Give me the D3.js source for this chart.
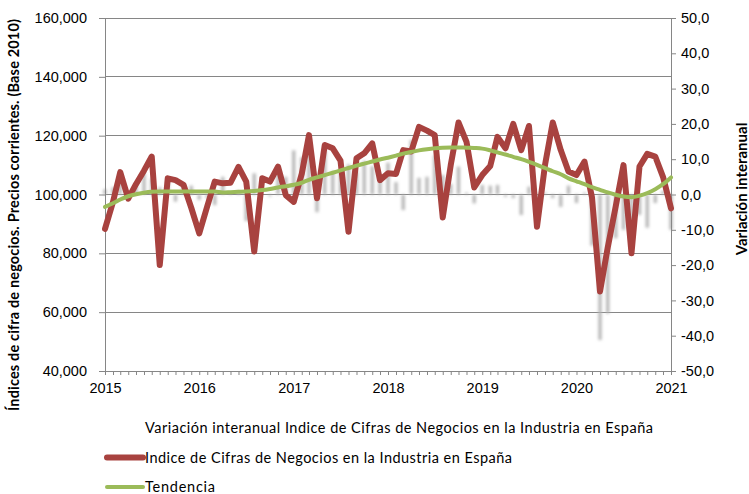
<!DOCTYPE html>
<html>
<head>
<meta charset="utf-8">
<script src="https://cdn.jsdelivr.net/npm/d3@7.9.0/dist/d3.min.js"></script>
<style>
  body { margin: 0; background: #fff; }
  svg { display: block; font-family: Lato, 'Open Sans', sans-serif; }
</style>
</head>
<body>
<svg id="chart" width="749" height="494"></svg>
<script>
// Indice de Cifras de Negocios en la Industria (Base 2010), ene 2015 - ene 2021
const indice = [
  88.3, 97.5, 107.6, 98.6, 103.5, 108.1, 112.9, 76.0, 105.5, 104.9, 103.3, 95.5,
  86.8, 96.0, 104.4, 103.8, 104.0, 109.4, 104.4, 80.6, 105.5, 104.4, 109.5, 99.8,
  97.5, 107.0, 120.2, 98.7, 116.8, 115.7, 111.5, 87.3, 112.3, 114.0, 117.4, 104.9,
  107.2, 107.0, 115.1, 114.6, 123.0, 121.7, 120.2, 92.2, 110.0, 124.5, 117.9, 102.4,
  106.6, 109.7, 119.6, 115.7, 124.0, 115.1, 123.3, 89.0, 110.0, 124.5, 115.1, 107.8,
  106.6, 111.2, 99.0, 67.0, 82.0, 96.0, 110.0, 80.0, 109.5, 113.8, 112.9, 106.0,
  95.3
];
const tendencia = [
  95.8, 97.0, 98.3, 99.4, 100.1, 100.6, 100.9, 101.0, 101.0, 101.0, 101.0, 101.0,
  101.0, 101.0, 101.0, 100.7, 100.8, 100.9, 101.0, 101.2, 101.5, 101.9, 102.4, 102.8,
  103.3, 104.0, 105.0, 105.8, 106.6, 107.4, 108.2, 109.0, 109.8, 110.5, 111.2, 111.9,
  112.5, 113.2, 113.9, 114.5, 115.0, 115.4, 115.7, 115.9, 116.0, 116.0, 115.9, 115.8,
  115.6, 115.0, 114.3, 113.6, 112.8, 112.0, 111.1, 110.1, 109.0, 107.9, 106.9, 105.5,
  104.5, 103.5, 102.5, 101.6, 100.7, 99.9, 99.3, 99.1, 99.6, 100.5, 101.8, 103.5,
  105.8
];
// variacion interanual (%)
const variacion = [
  1.5, 2.0, 4.0, -1.0, 3.0, 6.0, 4.5, 2.0, 4.0, -2.0, 3.0, 2.5,
  -1.5, -1.0, -3.0, 5.0, 0.5, 1.0, -7.5, 6.0, 0.0, -0.5, 6.0, 5.0,
  12.5, 10.5, 15.0, -5.0, 12.5, 6.5, 7.0, 8.5, 6.5, 9.5, 8.0, 5.0,
  9.0, 3.5, -4.4, 15.4, 4.7, 5.0, 11.0, 5.5, 3.0, 7.9, 0.5, -2.5,
  2.7, 2.5, 2.7, -0.6, -1.0, -5.8, 2.2, -3.5, 0.5, -1.0, -3.5, 2.5,
  -2.4, 0.5, -14.5, -41.2, -33.7, -12.4, -10.0, -10.0, -5.8, -9.4, -2.4, 1.0,
  -10.0
];
const anios = [2015, 2016, 2017, 2018, 2019, 2020, 2021];
const ticksIzq = [40, 60, 80, 100, 120, 140, 160];
const ticksDer = [-50, -40, -30, -20, -10, 0, 10, 20, 30, 40, 50];

const meses = indice.map((_, i) => new Date(2015, i, 1));

const svg = d3.select('#chart');
const mLeft = 105, mRight = 671, mTop = 18, mBottom = 371;
const grey = '#868686';

const es = d3.formatLocale({ decimal: ',', thousands: '.', grouping: [3], currency: ['', '€'], minus: '-' });

const x = d3.scaleTime().domain([new Date(2015, 0, 1), new Date(2021, 0, 1)]).range([mLeft, mRight]);
const yL = d3.scaleLinear().domain([40, 160]).range([mBottom, mTop]);
const yR = d3.scaleLinear().domain([-50, 50]).range([mBottom, mTop]);

// blur for the bars
svg.append('defs').append('filter').attr('id', 'blur')
  .attr('x', '-80%').attr('y', '-10%').attr('width', '260%').attr('height', '120%')
  .append('feGaussianBlur').attr('stdDeviation', 1.5);

// gridlines
svg.append('g').selectAll('line')
  .data(ticksIzq.slice(1))
  .join('line')
  .attr('x1', mLeft).attr('x2', mRight)
  .attr('y1', d => yL(d)).attr('y2', d => yL(d))
  .attr('stroke', grey).attr('stroke-width', 1)
  .attr('shape-rendering', 'crispEdges');

// bars
svg.append('g').attr('filter', 'url(#blur)')
  .selectAll('rect')
  .data(variacion)
  .join('rect')
  .attr('x', (d, i) => x(meses[i]) - 1.6)
  .attr('width', 3.2)
  .attr('y', d => Math.min(yR(d), yR(0)))
  .attr('height', d => Math.abs(yR(d) - yR(0)))
  .attr('fill', '#b4b4b4');

// axes
const styleAxis = g => {
  g.selectAll('.domain, .tick line').attr('stroke', grey);
  g.selectAll('text').attr('fill', '#000').attr('font-size', 14.5);
};

svg.append('g').attr('transform', `translate(${mLeft},0)`)
  .call(d3.axisLeft(yL).tickValues(ticksIzq).tickSize(6).tickSizeOuter(0).tickPadding(12).tickFormat(es.format('.3f')))
  .call(styleAxis);

svg.append('g').attr('transform', `translate(${mRight},0)`)
  .call(d3.axisRight(yR).tickValues(ticksDer).tickSize(5).tickSizeOuter(0).tickPadding(5).tickFormat(es.format('.1f')))
  .call(styleAxis);

svg.append('g').attr('transform', `translate(0,${mBottom})`)
  .call(d3.axisBottom(x).tickValues(meses).tickSize(4).tickSizeOuter(0).tickPadding(8)
    .tickFormat(d => d.getMonth() === 0 && anios.includes(d.getFullYear()) ? d.getFullYear() : ''))
  .call(styleAxis);

// lines
const lineL = d3.line().x((d, i) => x(meses[i])).y(d => yL(d));

svg.append('path').datum(indice)
  .attr('d', lineL)
  .attr('fill', 'none').attr('stroke', '#a8423f').attr('stroke-width', 6)
  .attr('stroke-linejoin', 'round').attr('stroke-linecap', 'round');

svg.append('path').datum(tendencia)
  .attr('d', lineL.curve(d3.curveMonotoneX))
  .attr('fill', 'none').attr('stroke', '#9bbb59').attr('stroke-width', 4)
  .attr('stroke-linejoin', 'round').attr('stroke-linecap', 'round');

// axis titles
svg.append('text')
  .attr('transform', 'translate(19,215) rotate(-90)')
  .attr('text-anchor', 'middle')
  .attr('font-size', 14.5).attr('font-weight', 'bold')
  .attr('textLength', 392).attr('lengthAdjust', 'spacing')
  .text('Índices de cifra de negocios. Precios corrientes. (Base 2010)');

svg.append('text')
  .attr('transform', 'translate(747,189) rotate(-90)')
  .attr('text-anchor', 'middle')
  .attr('font-size', 15).attr('font-weight', 'bold')
  .text('Variación interanual');

// legend
const legend = [
  { label: 'Variación interanual Indice de Cifras de Negocios en la Industria en España', color: null, len: 508 },
  { label: 'Indice de Cifras de Negocios en la Industria en España', color: '#a8423f', w: 6, len: 367 },
  { label: 'Tendencia', color: '#9bbb59', w: 4, len: 70 }
];
const lg = svg.append('g').selectAll('g').data(legend).join('g')
  .attr('transform', (d, i) => `translate(0,${428 + i * 29.5})`);
lg.filter(d => d.color)
  .append('line')
  .attr('x1', 107).attr('x2', 143)
  .attr('stroke', d => d.color).attr('stroke-width', d => d.w)
  .attr('stroke-linecap', 'round');
lg.append('text')
  .attr('x', 145).attr('dy', '0.35em')
  .attr('font-size', 14.5).attr('fill', '#000')
  .attr('textLength', d => d.len).attr('lengthAdjust', 'spacing')
  .text(d => d.label);
</script>
</body>
</html>
